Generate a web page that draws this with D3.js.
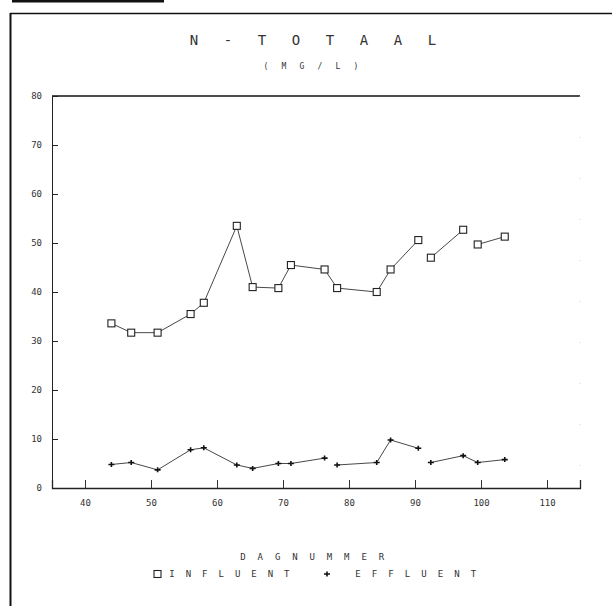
<!DOCTYPE html>
<html>
<head>
<meta charset="utf-8">
<script src="https://cdn.jsdelivr.net/npm/d3@7"></script>
<style>
  html, body { margin: 0; padding: 0; background: #fff; }
  svg { display: block; }
  text { font-family: "DejaVu Sans Mono", monospace; fill: #333; }
</style>
</head>
<body>
<svg id="chart" width="612" height="606"></svg>
<script>
// ---- data ----
const titleText = "N-TOTAAL";
const subtitleText = "(MG/L)";
const xLabel = "DAGNUMMER";
const legendNames = ["INFLUENT", "EFFLUENT"];

const days = [44, 47, 51, 56, 58, 63, 65.4, 69.3, 71.2, 76.3, 78.2, 84.2, 86.3, 90.5, 92.4, 97.3, 99.5, 103.6];
const influent = [33.6, 31.7, 31.7, 35.5, 37.8, 53.5, 41.0, 40.8, 45.5, 44.6, 40.8, 40.0, 44.6, 50.6, 47.0, 52.7, 49.7, 51.3];
const effluent = [4.8, 5.2, 3.7, 7.8, 8.2, 4.7, 4.0, 5.0, 5.0, 6.1, 4.7, 5.2, 9.8, 8.1, 5.2, 6.6, 5.2, 5.8];
// indices after which the drawn line is interrupted
const influentBreaks = [13, 15];
const effluentBreaks = [9, 13];

const xTicks = [40, 50, 60, 70, 80, 90, 100, 110];
const yTicks = [0, 10, 20, 30, 40, 50, 60, 70, 80];

// ---- layout ----
const svg = d3.select("#chart");
const L = 52, R = 580, T = 96, B = 488;
const x = d3.scaleLinear().domain([35, 115]).range([L, R]);
const y = d3.scaleLinear().domain([0, 80]).range([B, T]);

// spaced monospaced text: first glyph centred on x0, step between glyph centres
function spaced(str, x0, yy, size, step) {
  const cw = size * 0.602;
  return svg.append("text").attr("x", x0 - cw / 2).attr("y", yy)
    .attr("font-size", size).attr("letter-spacing", (step - cw) + "px").text(str);
}

// outer page frame (scan)
svg.append("rect").attr("x", 12).attr("y", 0).attr("width", 152).attr("height", 2.5).attr("fill", "#111");
svg.append("line").attr("x1", 10).attr("x2", 612).attr("y1", 13.5).attr("y2", 13.5)
  .attr("stroke", "#111").attr("stroke-width", 1.6);
svg.append("line").attr("x1", 10.5).attr("x2", 10.5).attr("y1", 13).attr("y2", 606)
  .attr("stroke", "#111").attr("stroke-width", 2);

// plot box
svg.append("line").attr("x1", L).attr("x2", R).attr("y1", T).attr("y2", T)
  .attr("stroke", "#111").attr("stroke-width", 1.3);
svg.append("line").attr("x1", R).attr("x2", R).attr("y1", T).attr("y2", B)
  .attr("stroke", "#ccc").attr("stroke-width", 0.8).attr("stroke-dasharray", "1,40");

// y axis
const yAxis = d3.axisLeft(y).tickValues(yTicks).tickSize(-6).tickPadding(10).tickFormat(d3.format("d"));
const gy = svg.append("g").attr("transform", `translate(${L},0)`).call(yAxis);
gy.select(".domain").attr("stroke", "#222").attr("stroke-width", 1);
gy.selectAll(".tick line").attr("stroke", "#222");
gy.selectAll(".tick text").attr("font-size", 9).attr("fill", "#333")
  .attr("font-family", "DejaVu Sans Mono, monospace");
gy.selectAll(".tick").filter(d => d === 0 || d === 80).select("line").remove();

// x axis
const xAxis = d3.axisBottom(x).tickValues(xTicks).tickSize(-8).tickPadding(12).tickFormat(d3.format("d"));
const gx = svg.append("g").attr("transform", `translate(0,${B})`).call(xAxis);
gx.select(".domain").attr("stroke", "#222").attr("stroke-width", 1.3);
gx.selectAll(".tick line").attr("stroke", "#333");
gx.selectAll(".tick text").attr("font-size", 9).attr("fill", "#333")
  .attr("font-family", "DejaVu Sans Mono, monospace");

// lines with interruptions
function segments(vals, breaks) {
  const segs = [];
  let cur = [];
  vals.forEach((v, i) => {
    cur.push([days[i], v]);
    if (breaks.includes(i)) { segs.push(cur); cur = []; }
  });
  if (cur.length) segs.push(cur);
  return segs;
}
const line = d3.line().x(d => x(d[0])).y(d => y(d[1]));

[[influent, influentBreaks], [effluent, effluentBreaks]].forEach(([vals, br]) => {
  svg.append("g").selectAll("path").data(segments(vals, br)).join("path")
    .attr("d", line).attr("fill", "none").attr("stroke", "#333").attr("stroke-width", 0.9);
});

// influent markers: open squares
svg.append("g").selectAll("rect").data(influent).join("rect")
  .attr("x", (d, i) => x(days[i]) - 3.5).attr("y", d => y(d) - 3.5)
  .attr("width", 7).attr("height", 7)
  .attr("fill", "#fff").attr("stroke", "#222").attr("stroke-width", 1.1);

// effluent markers: plus signs
svg.append("g").selectAll("path").data(effluent).join("path")
  .attr("d", (d, i) => {
    const cx = x(days[i]), cy = y(d);
    return `M${cx - 3},${cy}H${cx + 3}M${cx},${cy - 2.5}V${cy + 2.5}`;
  })
  .attr("stroke", "#111").attr("stroke-width", 1.6).attr("fill", "none");

// titles
spaced(titleText, 194, 45, 14, 34).attr("fill", "#444");
spaced(subtitleText, 266, 69, 8, 18).attr("fill", "#444");

// x axis label
spaced(xLabel, 243, 560, 9, 17.3);

// legend
const ly = 577;
svg.append("rect").attr("x", 154).attr("y", ly - 6.5).attr("width", 7).attr("height", 7)
  .attr("fill", "#fff").attr("stroke", "#222").attr("stroke-width", 1.1);
spaced(legendNames[0], 172, ly, 9, 16.4);
svg.append("path").attr("d", `M${324},${ly - 3}H${330}M${327},${ly - 5.5}V${ly - 0.5}`)
  .attr("stroke", "#111").attr("stroke-width", 1.6);
spaced(legendNames[1], 358, ly, 9, 16.5);
</script>
</body>
</html>
